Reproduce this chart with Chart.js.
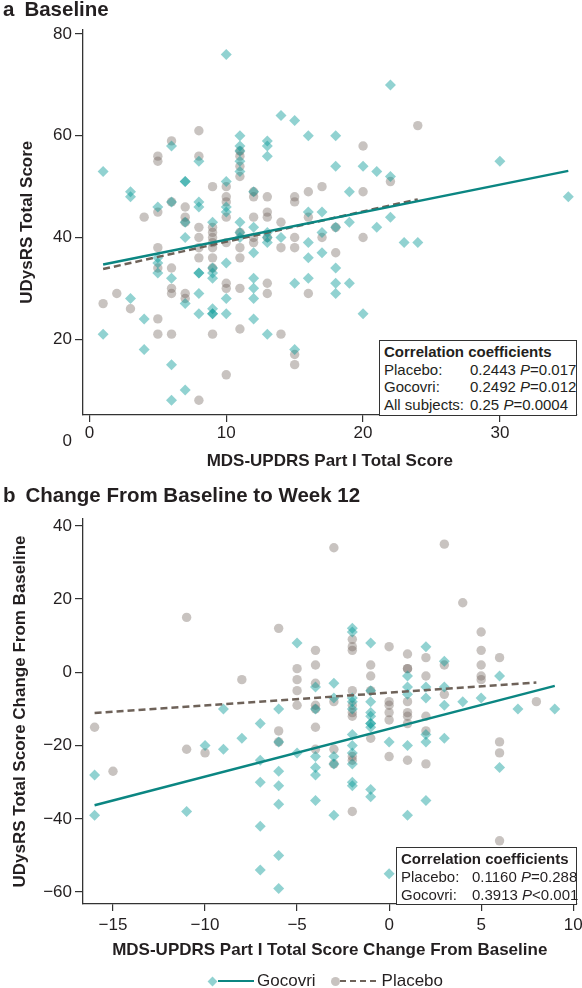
<!DOCTYPE html>
<html lang="en">
<head>
<meta charset="UTF-8">
<title>UDysRS vs MDS-UPDRS Part I</title>
<script src="https://cdn.jsdelivr.net/npm/chart.js"></script>
<style>
    body {
        margin: 0;
        background: #fff;
        font-family: "Liberation Sans", Arial, sans-serif;
        color: #231f20;
    }

    #page {
        position: relative;
        width: 582px;
        height: 988px;
        overflow: hidden;
    }

    canvas {
        position: absolute;
        left: 0;
    }

    .panel-title {
        position: absolute;
        left: 3px;
        font-weight: bold;
        font-size: 20.5px;
        line-height: 20px;
        white-space: nowrap;
    }

    .panel-title span {
        margin-right: 10px;
    }

    /* boxes with correlation results */
    .corr {
        position: absolute;
        box-sizing: border-box;
        border: 1px solid #333;
        background: #fff;
        font-size: 15px;
        padding: 2px 0 0 4px;
        white-space: nowrap;
    }

    .corr .hd {
        font-weight: bold;
    }

    .corr .lab {
        display: inline-block;
    }

    .legend {
        position: absolute;
        top: 971px;
        left: 209px;
        height: 20px;
        display: flex;
        align-items: center;
        font-size: 17px;
        white-space: nowrap;
    }

    .legend .dia {
        width: 7px;
        height: 7px;
        background: rgba(0, 150, 148, 0.43);
        transform: rotate(45deg);
        margin-right: 2px;
    }

    .legend .solid {
        width: 36px;
        height: 2.5px;
        background: #0b8682;
        margin-right: 3px;
    }

    .legend .dot {
        width: 9px;
        height: 9px;
        border-radius: 50%;
        background: rgba(110, 98, 90, 0.38);
        margin-left: 15px;
        margin-right: 0;
    }

    .legend .dash {
        width: 39px;
        height: 2.5px;
        background: repeating-linear-gradient(to right, #6e6259 0 6px, transparent 6px 10px);
        margin-right: 3px;
    }
</style>
</head>
<body>
<div id="page">
    <canvas id="chartA" width="582" height="480" style="top:0"></canvas>
    <canvas id="chartB" width="582" height="508" style="top:480px"></canvas>

    <div class="panel-title" style="top:-1px"><span>a</span>Baseline</div>
    <div class="panel-title" style="top:485px"><span>b</span>Change From Baseline to Week 12</div>

    <div class="corr" style="left:379px; top:340px; width:198px; height:76px; line-height:17.5px">
        <div class="hd">Correlation coefficients</div>
        <div><span class="lab" style="width:86px">Placebo:</span>0.2443 <i>P</i>=0.017</div>
        <div><span class="lab" style="width:86px">Gocovri:</span>0.2492 <i>P</i>=0.012</div>
        <div><span class="lab" style="width:86px">All subjects:</span>0.25 <i>P</i>=0.0004</div>
    </div>

    <div class="corr" style="left:396px; top:847px; width:181px; height:58px; line-height:18px">
        <div class="hd">Correlation coefficients</div>
        <div><span class="lab" style="width:71px">Placebo:</span>0.1160 <i>P</i>=0.288</div>
        <div><span class="lab" style="width:71px">Gocovri:</span>0.3913 <i>P</i>&lt;0.001</div>
    </div>

    <div class="legend">
        <div class="dia"></div><div class="solid"></div><span>Gocovri</span>
        <div class="dot"></div><div class="dash"></div><span>Placebo</span>
    </div>
</div>

<script>
    // ---- panel a: baseline scores ----
    const baseGocX = [10,14,15,1,3,3,6,8,11,11, 11,11,11,13,13,13,7,7,10,10,
        10,6,5,7,7,8,8,9,11,11, 11,12,12,13,13,14,22,16,18,18,
        20,21,22,30,35,19,16,17,19,18, 21,22,17,16,23,24,1,3,4,4,
        5,5,5,6,6,6,7,7,8,8, 8,8,9,9,9,9,9,9,10,10,
        10,12,12,12,12,12,13,13,15,15, 16,17,18,16,18,19,18,20];
    const baseGocY = [76,64,63,53,49,48,58,55,60,58, 57,55,53,59,58,56,51,51,51,46,
        45,47,46,43,40,47,46,43,43,41, 40,49,42,41,40,40,70,60,60,54,
        54,53,52,55,48,49,45,45,43,42, 42,44,41,39,39,39,21,28,24,18,
        36,35,33,32,15,8,27,10,33,33, 29,25,34,33,32,26,25,25,35,28,
        25,37,32,30,28,24,39,21,31,18, 36,37,34,32,31,31,29,25];

    const basePlaX = [5,5,6,8,8,11,11,11,11,9, 10,10,10,10,6,5,4,7,7,7,
        8,8,9,9,9,11,12,12,12,12, 12,13,13,13,13,14,15,15,15,24,
        20,22,16,17,20,16,18,17,20,1, 2,3,5,5,5,5,6,6,6,6,
        7,7,8,8,8,9,9,9,9,9, 10,10,10,10,11,11,11,11,13,13,
        14,14,15,15,18,16,15];
    const basePlaY = [56,55,59,61,56,57,56,54,52,50, 50,48,47,44,47,45,44,46,44,43,
        42,40,42,41,40,41,49,48,44,40, 39,48,45,44,40,43,48,47,40,62,
        58,51,49,50,49,44,42,40,40,27, 29,26,38,34,24,21,34,30,29,21,
        29,28,38,36,8,39,38,36,34,21, 39,31,30,13,38,36,30,22,31,29,
        38,21,17,15,37,29,38];

    // regression lines (end points)
    const baseGocLineX = [1, 35];
    const baseGocLineY = [34.7, 53.1];
    const basePlaLineX = [1, 24];
    const basePlaLineY = [33.8, 47.5];

    const baseXTicks = [0, 10, 20, 30];
    const baseYTicks = [0, 20, 40, 60, 80];

    // ---- panel b: change from baseline to week 12 ----
    const chgGocX = [-5,-16,-16,-11,-10,-9,-9,-8,-7,-7, -7,-7,-7,-6,-6,-6,-6,-6,-6,-6,
        -5,-4,-4,-4,-4,-4,-4,-3,-3,-3, -3,-3,-2,-2,-2,-2,-2,-2,-2,-2,
        -2,-2,-2,-1,-1,-1,-1,-1,-1,-1, -1,-1,-1,0,0,1,1,1,1,1,
        2,2,2,2,2,2,3,3,3,3, 4,5,6,6,7,9];
    const chgGocY = [8,-28,-39,-38,-20,-10,-21,-18,-14,-24, -30,-42,-54,-10,-19,-27,-31,-36,-50,-59,
        -22,-4,-10,-23,-26,-28,-35,-3,-7,-23, -25,-39,12,11,-7,-8,-10,-17,-20,-22,
        -25,-30,-31,8,-5,-8,-11,-12,-14,-14, -15,-32,-34,-19,-55,-1,-4,-6,-20,-39,
        7,-4,-7,-17,-19,-35,3,-4,-9,-18, -8,-7,-1,-26,-10,-10];

    const chgPlaX = [-11,-6,-5,-8,-16,-15,-11,-10,-6,-6, -5,-5,-5,-4,-4,-4,-4,-4,-4,-4,
        -3,-3,-3,-3,-2,-2,-2,-2,-2,-2, -2,-2,-2,-2,-1,-1,-1,-1,0,0,
        0,0,0,0,1,1,1,1,1,1, 1,1,2,2,2,2,2,3,3,3,
        4,5,5,5,5,5,6,6,6,6, 8];
    const chgPlaY = [15,12,1,-2,-15,-27,-21,-22,-16,-19, -2,-5,-9,6,2,-3,-9,-10,-15,-21,
        34,-8,-21,-25,9,7,6,-5,-9,-11, -12,-23,-24,-38,2,-1,-5,-18,7,-8,
        -9,-11,-13,-23,5,1,1,-8,-11,-12, -14,-24,4,-1,-12,-16,-25,35,2,-6,
        19,11,6,2,-1,-2,4,-19,-22,-46, -8];

    const chgGocLineX = [-16, 9];
    const chgGocLineY = [-36.3, -3.7];
    const chgPlaLineX = [-16, 8];
    const chgPlaLineY = [-11.1, -2.8];

    const chgXTicks = [-15, -10, -5, 0, 5, 10];
    const chgYTicks = [-60, -40, -20, 0, 20, 40];

    // ---- styles ----
    const FONT = '"Liberation Sans", Arial, sans-serif';
    const TEXT = '#231f20';
    const AXIS = '#333';
    const TEAL = 'rgba(0,150,148,0.43)';
    const GRAY = 'rgba(110,98,90,0.38)';
    const TEAL_LINE = '#0b8682';
    const BROWN_LINE = '#6e6259';

    Chart.defaults.font.family = FONT;

    function pts(xs, ys) {
        return xs.map((x, i) => ({ x: x, y: ys[i] }));
    }

    // real minus sign for negative tick labels
    function minus(v) {
        return v < 0 ? '\u2212' + Math.abs(v) : String(v);
    }

    function buildChart(id, o) {
        return new Chart(document.getElementById(id), {
            type: 'scatter',
            data: {
                datasets: [
                    { data: pts(o.gocLineX, o.gocLineY), showLine: true, borderColor: TEAL_LINE, borderWidth: 2.5, pointRadius: 0 },
                    { data: pts(o.plaLineX, o.plaLineY), showLine: true, borderColor: BROWN_LINE, borderWidth: 2.5, borderDash: [7, 4], pointRadius: 0 },
                    { data: pts(o.gocX, o.gocY), pointStyle: 'rectRot', pointRadius: 5.5, backgroundColor: TEAL, borderWidth: 0 },
                    { data: pts(o.plaX, o.plaY), pointStyle: 'circle', pointRadius: 4.7, backgroundColor: GRAY, borderWidth: 0 }
                ]
            },
            options: {
                responsive: false,
                animation: false,
                devicePixelRatio: 1,
                layout: { padding: { left: 0, right: o.padRight, top: o.padTop, bottom: 0 } },
                plugins: { legend: { display: false }, tooltip: { enabled: false } },
                scales: {
                    x: {
                        type: 'linear',
                        min: o.xMin,
                        max: o.xMax,
                        afterBuildTicks: s => { s.ticks = o.xTicks.map(v => ({ value: v })); },
                        afterFit: s => { s.height = o.xAxisHeight; s.paddingLeft = 0; s.paddingRight = 0; },
                        border: { color: AXIS, width: 1.3 },
                        grid: { drawOnChartArea: false, tickLength: 7, color: AXIS, lineWidth: 1.2 },
                        ticks: { color: TEXT, font: { size: 17 }, padding: o.xTickPad, maxRotation: 0, autoSkip: false, callback: v => minus(v) },
                        title: { display: true, text: o.xTitle, color: TEXT, font: { size: 17, weight: 'bold' }, padding: { top: 0, bottom: o.xTitlePad } }
                    },
                    y: {
                        type: 'linear',
                        min: o.yMin,
                        max: o.yMax,
                        afterBuildTicks: s => { s.ticks = o.yTicks.map(v => ({ value: v })); },
                        afterFit: s => { s.width = 83; s.paddingTop = 0; s.paddingBottom = 0; },
                        border: { color: AXIS, width: 1.3 },
                        grid: {
                            drawOnChartArea: false,
                            tickLength: 8,
                            lineWidth: 1.2,
                            // no tick mark for a label that sits below the axis end
                            color: c => (c.tick && c.tick.value < o.yMin) ? 'rgba(0,0,0,0)' : AXIS
                        },
                        ticks: { color: TEXT, font: { size: 17 }, padding: 3, autoSkip: false, callback: v => minus(v) },
                        title: { display: true, text: o.yTitle, color: TEXT, font: { size: 17, weight: 'bold' }, padding: { top: o.yTitlePad, bottom: 0 } }
                    }
                }
            }
        });
    }

    buildChart('chartA', {
        gocX: baseGocX, gocY: baseGocY, plaX: basePlaX, plaY: basePlaY,
        gocLineX: baseGocLineX, gocLineY: baseGocLineY, plaLineX: basePlaLineX, plaLineY: basePlaLineY,
        xTicks: baseXTicks, yTicks: baseYTicks,
        xMin: -0.47, xMax: 35.6, yMin: 5.1, yMax: 80.9,
        padTop: 29.5, padRight: 5, xAxisHeight: 65,
        xTickPad: 1, xTitlePad: 8, yTitlePad: 16.8,
        xTitle: 'MDS-UPDRS Part I Total Score',
        yTitle: 'UDysRS Total Score'
    });

    buildChart('chartB', {
        gocX: chgGocX, gocY: chgGocY, plaX: chgPlaX, plaY: chgPlaY,
        gocLineX: chgGocLineX, gocLineY: chgGocLineY, plaLineX: chgPlaLineX, plaLineY: chgPlaLineY,
        xTicks: chgXTicks, yTicks: chgYTicks,
        xMin: -16.63, xMax: 10.18, yMin: -63.25, yMax: 41.86,
        padTop: 39, padRight: 4, xAxisHeight: 84,
        xTickPad: 4, xTitlePad: 27, yTitlePad: 9.8,
        xTitle: 'MDS-UPDRS Part I Total Score Change From Baseline',
        yTitle: 'UDysRS Total Score Change From Baseline'
    });
</script>
</body>
</html>
